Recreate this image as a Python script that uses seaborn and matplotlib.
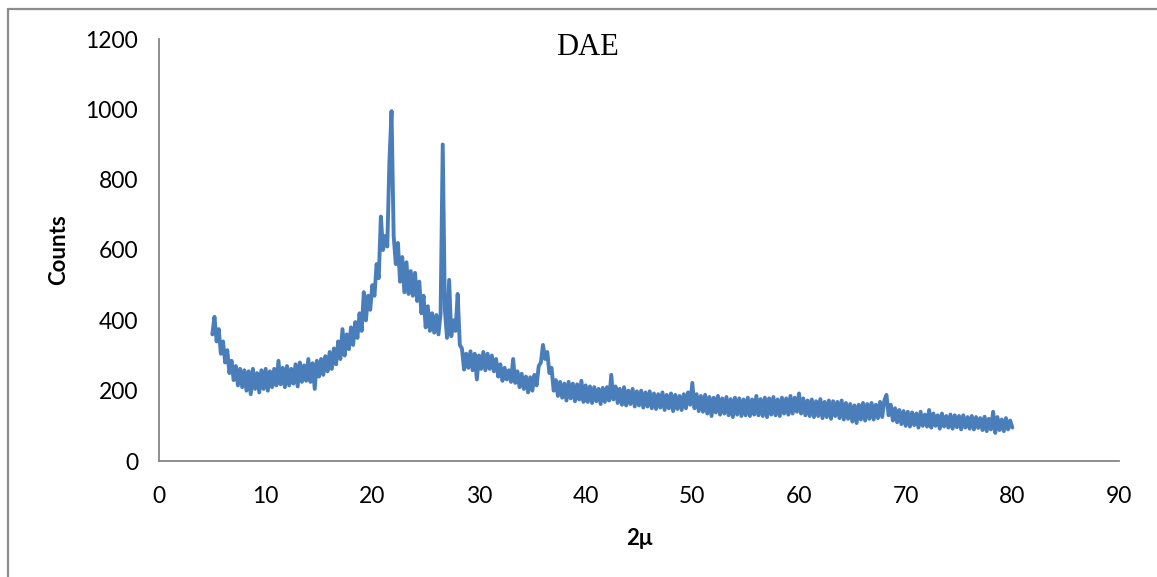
import numpy as np
import pandas as pd
import matplotlib
matplotlib.use("Agg")
import matplotlib.pyplot as plt
from matplotlib.lines import Line2D
import seaborn as sns

# Scan grid (degrees) and recorded counts
scan_start = 5.0
scan_stop = 80.0
scan_step = 0.2

counts = [
    # 5.0 - 9.8
    360, 410, 340, 375, 305, 340, 280, 315, 250, 285, 230, 270, 215, 262, 210,
    258, 200, 255, 190, 262, 205, 250, 195, 258, 205,
    # 10.0 - 14.8
    262, 200, 255, 210, 262, 215, 285, 218, 265, 210, 270, 215, 262, 220, 275,
    212, 280, 225, 272, 228, 290, 225, 278, 205, 285,
    # 15.0 - 19.8
    240, 290, 245, 298, 255, 310, 262, 320, 275, 340, 290, 375, 300, 360, 318,
    380, 330, 395, 350, 420, 370, 480, 400, 470, 430,
    # 20.0 - 24.8
    500, 470, 560, 520, 695, 600, 640, 610, 850, 995, 640, 560, 620, 510, 580,
    480, 565, 475, 540, 470, 535, 455, 510, 420, 470,
    # 25.0 - 29.8
    380, 440, 370, 420, 365, 415, 360, 420, 900, 430, 350, 515, 355, 400, 370,
    475, 330, 320, 260, 305, 265, 312, 258, 305, 232,
    # 30.0 - 34.8
    300, 262, 310, 258, 305, 262, 300, 255, 290, 240, 275, 228, 265, 232, 258,
    225, 290, 222, 255, 210, 248, 205, 240, 195, 238,
    # 35.0 - 39.8
    200, 245, 215, 270, 280, 330, 290, 310, 250, 265, 200, 230, 185, 225, 180,
    220, 172, 225, 178, 220, 170, 218, 175, 228, 168,
    # 40.0 - 44.8
    215, 168, 212, 165, 210, 170, 205, 162, 208, 168, 210, 172, 245, 175, 212,
    165, 205, 160, 210, 158, 200, 162, 205, 155, 198,
    # 45.0 - 49.8
    158, 200, 152, 195, 155, 198, 150, 192, 148, 190, 152, 195, 145, 188, 150,
    192, 142, 188, 148, 185, 145, 190, 150, 195, 160,
    # 50.0 - 54.8
    222, 150, 190, 142, 185, 140, 188, 135, 182, 128, 180, 138, 185, 132, 178,
    135, 182, 130, 176, 125, 180, 132, 178, 128, 175,
    # 55.0 - 59.8
    130, 180, 128, 175, 132, 185, 130, 176, 128, 180, 125, 178, 132, 182, 130,
    175, 128, 180, 135, 178, 132, 185, 135, 180, 140,
    # 60.0 - 64.8
    192, 135, 178, 130, 172, 128, 175, 125, 170, 128, 176, 122, 168, 125, 172,
    120, 170, 128, 168, 122, 172, 118, 165, 120, 162,
    # 65.0 - 69.8
    112, 158, 108, 160, 118, 165, 115, 162, 120, 165, 118, 160, 122, 168, 125,
    172, 188, 130, 160, 115, 150, 110, 145, 105, 142,
    # 70.0 - 74.8
    100, 140, 98, 138, 102, 135, 95, 140, 100, 132, 98, 145, 95, 135, 100,
    130, 92, 135, 98, 128, 95, 132, 92, 130, 96,
    # 75.0 - 80.0
    128, 90, 130, 95, 125, 92, 128, 90, 125, 94, 122, 88, 126, 85, 120,
    90, 140, 80, 125, 88, 118, 85, 122, 90, 115, 95,
]

x_ticks = [0, 10, 20, 30, 40, 50, 60, 70, 80, 90]
y_ticks = [0, 200, 400, 600, 800, 1000, 1200]

two_theta = np.round(scan_start + scan_step * np.arange(len(counts)), 2)
df = pd.DataFrame({"two_theta": two_theta, "counts": counts})

sns.set_theme(style="white")
plt.rcParams["font.family"] = ["Lato", "DejaVu Sans"]

fig = plt.figure(figsize=(11.57, 5.77), dpi=100)
ax = fig.add_axes([159 / 1157, 1 - 461 / 577, 960 / 1157, 422 / 577])

sns.lineplot(data=df, x="two_theta", y="counts", ax=ax, color="#4A7EBB",
             linewidth=2.8, sort=False, estimator=None)

ax.set_xlim(0, 90)
ax.set_ylim(0, 1200)
ax.set_xticks(x_ticks)
ax.set_yticks(y_ticks)
ax.set_xticklabels([str(t) for t in x_ticks])
ax.set_yticklabels([str(t) for t in y_ticks])

axis_grey = "#868686"
for side in ("top", "right"):
    ax.spines[side].set_visible(False)
for side in ("left", "bottom"):
    ax.spines[side].set_color(axis_grey)
    ax.spines[side].set_linewidth(1.3)

ax.tick_params(axis="both", which="major", direction="out", color=axis_grey,
               width=1.3, labelsize=16.5, labelcolor="black")
ax.tick_params(axis="x", length=6, pad=12)
ax.tick_params(axis="y", length=5, pad=10)

ax.set_xlabel("2μ", fontsize=16, fontweight="bold", color="black")
ax.set_ylabel("Counts", fontsize=16, fontweight="bold", color="black")
ax.xaxis.set_label_coords(0.5, -0.158)
ax.yaxis.set_label_coords(-0.094, 0.5)

ax.text(0.446, 0.981, "DAE", transform=ax.transAxes, ha="center", va="center",
        fontsize=22, family=["Liberation Serif", "DejaVu Serif"], color="black")

# Outer chart-area border (left and top edges)
frame_grey = "#8C8C8C"
fig.add_artist(Line2D([8 / 1157, 8 / 1157], [0, 1 - 9 / 577],
                      transform=fig.transFigure, color=frame_grey, linewidth=1.6))
fig.add_artist(Line2D([8 / 1157, 1], [1 - 9 / 577, 1 - 9 / 577],
                      transform=fig.transFigure, color=frame_grey, linewidth=1.6))

fig.savefig("out.png", dpi=100)
